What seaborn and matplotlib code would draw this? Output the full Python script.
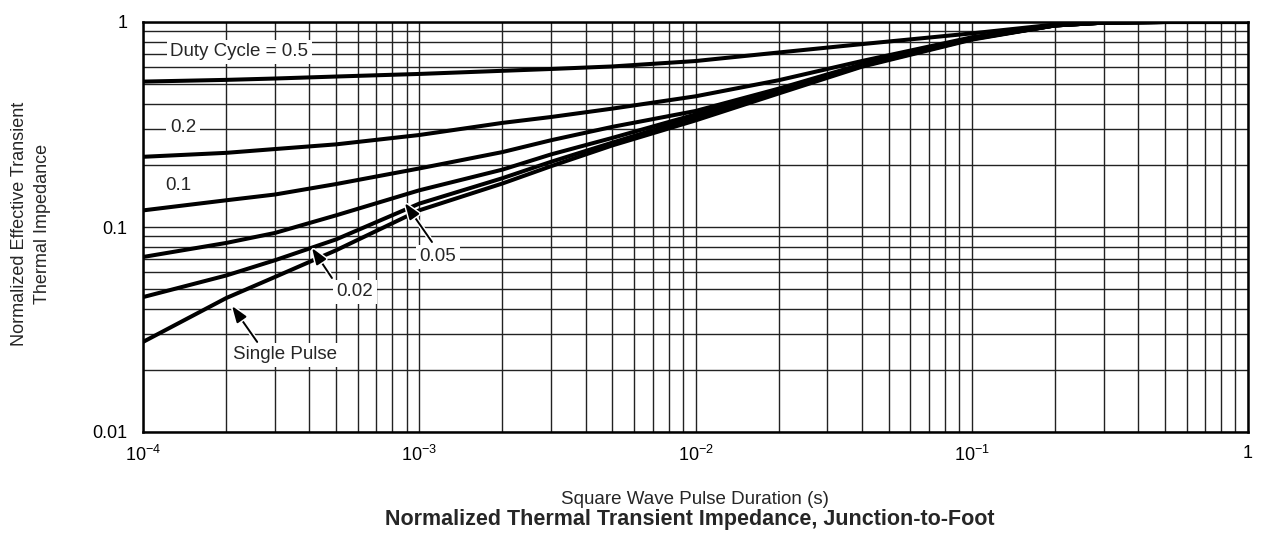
import matplotlib
matplotlib.use('Agg')
import matplotlib.pyplot as plt
import matplotlib.patheffects as pe
from matplotlib.ticker import LogLocator, NullFormatter, FixedLocator, FixedFormatter
import seaborn as sns
import pandas as pd
import numpy as np

pulse_time = [1e-4, 2e-4, 3e-4, 5e-4, 1e-3, 2e-3, 3e-3, 5e-3,
              1e-2, 2e-2, 4e-2, 1e-1, 2e-1, 3e-1, 5e-1, 1.0]

# normalized effective transient thermal impedance per duty cycle
z_d05 = [0.512, 0.522, 0.530, 0.542, 0.558, 0.578, 0.590, 0.607,
         0.645, 0.710, 0.780, 0.880, 0.972, 0.993, 1.0, 1.0]
z_d02 = [0.220, 0.230, 0.240, 0.253, 0.281, 0.322, 0.344, 0.378,
         0.434, 0.520, 0.645, 0.842, 0.962, 0.993, 1.0, 1.0]
z_d01 = [0.1205, 0.135, 0.144, 0.162, 0.193, 0.232, 0.265, 0.308,
         0.368, 0.473, 0.622, 0.830, 0.962, 0.993, 1.0, 1.0]
z_d005 = [0.0714, 0.0836, 0.0935, 0.114, 0.151, 0.1905, 0.226, 0.272,
          0.354, 0.460, 0.615, 0.828, 0.962, 0.993, 1.0, 1.0]
z_d002 = [0.0455, 0.058, 0.0688, 0.087, 0.130, 0.173, 0.208, 0.258,
          0.344, 0.455, 0.610, 0.825, 0.962, 0.993, 1.0, 1.0]
z_single = [0.0275, 0.045, 0.057, 0.077, 0.1206, 0.163, 0.198, 0.250,
            0.331, 0.448, 0.605, 0.820, 0.962, 0.993, 1.0, 1.0]

curve_names = ['0.5', '0.2', '0.1', '0.05', '0.02', 'Single Pulse']
curve_values = [z_d05, z_d02, z_d01, z_d005, z_d002, z_single]

x_tick_values = [1e-4, 1e-3, 1e-2, 1e-1, 1.0]
x_tick_labels = ['$10^{-4}$', '$10^{-3}$', '$10^{-2}$', '$10^{-1}$', '1']
y_tick_values = [0.01, 0.1, 1.0]
y_tick_labels = ['0.01', '0.1', '1']

rows = []
for name, vals in zip(curve_names, curve_values):
    for t, z in zip(pulse_time, vals):
        rows.append({'Duty': name, 'Time': t, 'Z': z})
df = pd.DataFrame(rows)

sns.set_theme(style='white')
plt.rcParams['font.family'] = ['Liberation Sans', 'DejaVu Sans']
plt.rcParams['mathtext.fontset'] = 'custom'
plt.rcParams['mathtext.rm'] = 'Liberation Sans'
plt.rcParams['mathtext.it'] = 'Liberation Sans:italic'
plt.rcParams['mathtext.bf'] = 'Liberation Sans:bold'

W, H = 1264, 535
fig = plt.figure(figsize=(W / 100, H / 100), dpi=100)
ax = fig.add_axes([143 / W, 1 - 432 / H, (1248 - 143) / W, (432 - 22) / H])

sns.lineplot(data=df, x='Time', y='Z', hue='Duty', hue_order=curve_names,
             palette=['black'] * len(curve_names), linewidth=2.9,
             legend=False, ax=ax, zorder=4)

ax.set_xscale('log')
ax.set_yscale('log')
ax.set_xlim(1e-4, 1)
ax.set_ylim(0.01, 1)

ax.xaxis.set_major_locator(FixedLocator(x_tick_values))
ax.xaxis.set_major_formatter(FixedFormatter(x_tick_labels))
ax.yaxis.set_major_locator(FixedLocator(y_tick_values))
ax.yaxis.set_major_formatter(FixedFormatter(y_tick_labels))
ax.xaxis.set_minor_locator(LogLocator(base=10, subs=np.arange(2, 10), numticks=20))
ax.yaxis.set_minor_locator(LogLocator(base=10, subs=np.arange(2, 10), numticks=20))
ax.xaxis.set_minor_formatter(NullFormatter())
ax.yaxis.set_minor_formatter(NullFormatter())
ax.tick_params(which='both', length=0, labelsize=13, colors='black')
ax.tick_params(axis='x', pad=9)
ax.tick_params(axis='y', pad=11)

ax.grid(True, which='both', color='#222222', linewidth=1.0)
ax.set_axisbelow(True)
for sp in ax.spines.values():
    sp.set_color('black')
    sp.set_linewidth(1.8)

ax.set_xlabel('')
ax.set_ylabel('')
fig.text(31 / W, 1 - 224 / H, 'Normalized Effective Transient\nThermal Impedance',
         rotation=90, ha='center', va='center', multialignment='center',
         fontsize=13, linespacing=1.4)
fig.text(695 / W, 1 - 499 / H, 'Square Wave Pulse Duration (s)',
         ha='center', va='center', fontsize=13.5)
fig.text(690 / W, 1 - 519 / H,
         'Normalized Thermal Transient Impedance, Junction-to-Foot',
         ha='center', va='center', fontsize=15.5, fontweight='bold')

box = dict(facecolor='white', edgecolor='none', pad=2.5)
fs = 13.5
ax.text(2.23e-4, 0.714, 'Duty Cycle = 0.5', ha='center', va='center', fontsize=fs, bbox=box, zorder=3)
ax.text(1.395e-4, 0.307, '0.2', ha='center', va='center', fontsize=fs, bbox=box, zorder=3)
ax.text(1.34e-4, 0.16, '0.1', ha='center', va='center', fontsize=fs, bbox=box, zorder=3)

halo = [pe.withStroke(linewidth=3.5, foreground='white')]
arrows = [
    ('0.05', (1.169e-3, 0.0714), (8.87e-4, 0.131), (1.112e-3, 0.0845)),
    ('0.02', (5.85e-4, 0.0482), (4.09e-4, 0.079), (4.83e-4, 0.0564)),
    ('Single Pulse', (3.27e-4, 0.0238), (2.1e-4, 0.0412), (2.59e-4, 0.0275)),
]
for label, pos, tip, tail in arrows:
    ax.text(pos[0], pos[1], label, ha='center', va='center', fontsize=fs, bbox=box, zorder=3)
    ax.annotate('', xy=tip, xytext=tail,
                arrowprops=dict(arrowstyle='-|>,head_length=0.7,head_width=0.25',
                                color='black', lw=1.4,
                                mutation_scale=14, shrinkA=0, shrinkB=0,
                                path_effects=halo),
                zorder=5)

plt.savefig('out.png', dpi=100)
